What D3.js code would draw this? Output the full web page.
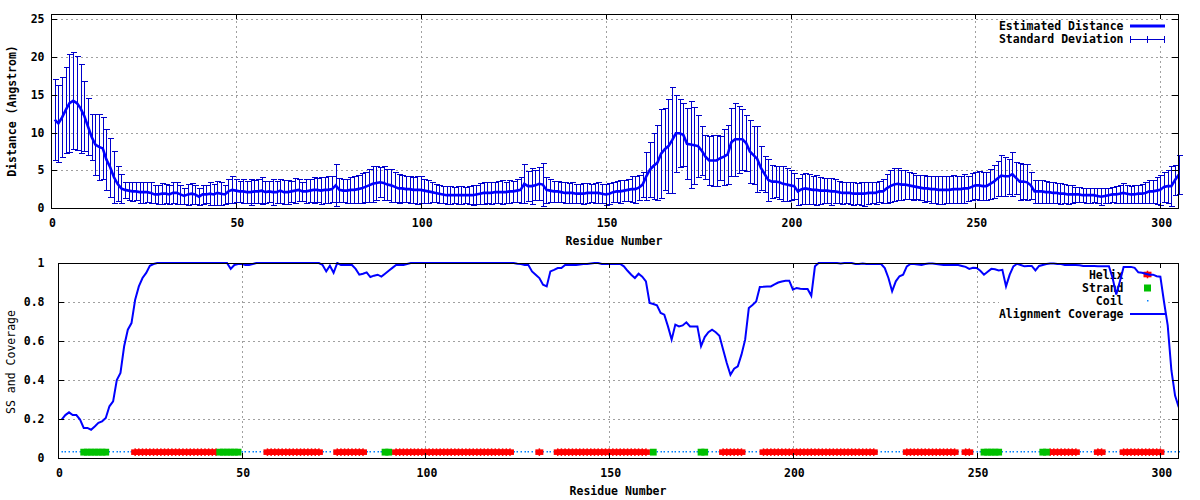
<!DOCTYPE html>
<html><head><meta charset="utf-8">
<script src="https://cdn.jsdelivr.net/npm/d3@7"></script>
<style>
body{margin:0;background:#fff}
text{font-family:"DejaVu Sans Mono","Liberation Mono",monospace;font-size:11.5px;font-weight:bold;fill:#000}
</style>
</head><body><script>
// ---------------- data ----------------
const meanDist = [11.7,11.2,12.0,13.0,13.9,14.2,13.9,13.2,12.2,10.8,
 9.4,8.4,8.1,7.9,6.4,5.4,4.1,3.2,2.6,2.4,
 2.3,2.2,2.2,2.1,2.1,2.1,2.0,1.8,1.8,1.9,
 1.9,1.8,2.0,2.0,1.8,1.6,1.8,1.9,1.8,1.5,
 1.8,1.8,1.9,1.8,2.0,1.9,1.8,2.2,2.4,2.3,
 2.2,2.2,2.1,2.1,2.2,2.2,2.3,2.1,2.2,2.1,
 2.1,2.3,2.1,2.1,2.2,2.3,2.4,2.2,2.2,2.3,
 2.4,2.4,2.3,2.4,2.4,2.5,3.0,2.4,2.3,2.3,
 2.4,2.4,2.5,2.6,2.8,3.0,3.2,3.3,3.4,3.3,
 3.1,3.0,2.8,2.6,2.6,2.5,2.5,2.4,2.4,2.4,
 2.3,2.2,2.1,2.0,1.9,1.8,1.7,1.7,1.7,1.7,
 1.7,1.7,1.7,1.7,1.8,1.9,2.0,2.0,2.0,2.1,
 2.1,2.1,2.1,2.2,2.2,2.3,2.4,3.2,2.9,2.9,
 3.0,3.2,3.1,2.4,2.3,2.2,2.2,2.1,2.0,2.0,
 2.0,1.9,1.9,1.9,2.0,2.0,2.0,2.0,1.9,1.8,
 1.9,2.1,2.2,2.2,2.3,2.4,2.5,2.5,2.7,3.1,
 4.2,5.1,5.6,6.0,7.2,7.8,8.2,9.0,9.9,9.9,
 9.7,8.5,8.4,8.3,8.2,7.6,6.8,6.3,6.3,6.3,
 6.6,6.8,7.1,8.7,9.1,9.1,9.1,8.6,7.5,7.0,
 6.5,5.3,4.5,3.7,3.5,3.5,3.4,3.2,3.1,3.0,
 2.9,2.2,2.5,2.6,2.5,2.4,2.4,2.3,2.3,2.3,
 2.2,2.2,2.1,2.0,2.0,2.0,1.9,1.9,1.9,1.9,
 2.0,2.0,2.0,2.2,2.2,2.6,2.9,3.1,3.2,3.1,
 3.1,3.0,2.9,2.8,2.7,2.6,2.6,2.5,2.5,2.4,
 2.4,2.4,2.4,2.5,2.5,2.5,2.6,2.6,2.8,3.0,
 3.0,2.9,2.9,3.2,3.5,3.9,4.3,4.2,4.2,4.5,
 4.0,3.5,3.5,3.4,3.0,2.2,2.2,2.2,2.1,2.1,
 2.0,2.0,1.9,1.9,1.8,1.8,1.8,1.8,1.7,1.7,
 1.7,1.7,1.6,1.5,1.6,1.7,1.8,1.8,1.9,2.0,
 1.9,1.8,1.8,1.9,1.9,2.0,2.2,2.2,2.3,2.4,
 2.8,2.9,2.9,3.7,4.4];

const sdDist = [5.4,5.1,5.3,5.7,6.5,6.4,6.2,5.9,4.6,3.8,
 3.0,4.0,4.4,4.1,4.0,3.9,3.4,2.3,1.9,1.1,
 1.2,1.3,1.2,1.4,1.4,1.3,1.4,1.2,1.3,1.4,
 1.3,1.3,1.4,1.5,1.3,1.1,1.4,1.4,1.3,1.1,
 1.3,1.2,1.5,1.4,1.6,1.5,1.3,1.6,1.8,1.5,
 1.4,1.6,1.5,1.7,1.5,1.6,1.8,1.5,1.4,1.7,
 1.5,1.6,1.6,1.6,1.4,1.7,1.5,1.3,1.6,1.5,
 1.7,1.6,1.8,1.7,1.8,1.7,2.8,1.6,1.5,1.6,
 1.7,1.8,1.9,2.0,2.0,2.2,2.4,2.3,2.0,2.2,
 2.1,2.2,2.0,1.9,1.8,1.7,1.8,1.7,1.9,1.8,
 1.6,1.5,1.3,1.2,1.2,1.1,1.2,1.2,1.1,1.2,
 1.2,1.1,1.2,1.3,1.3,1.4,1.5,1.4,1.5,1.4,
 1.5,1.6,1.4,1.5,1.4,1.5,1.7,2.6,2.0,2.4,
 2.0,2.2,2.8,1.7,1.5,1.4,1.4,1.3,1.4,1.3,
 1.4,1.3,1.3,1.4,1.3,1.2,1.3,1.4,1.3,1.4,
 1.4,1.3,1.4,1.5,1.4,1.5,1.7,1.8,1.7,1.7,
 3.2,3.7,4.4,5.0,5.9,5.4,6.2,7.0,5.1,4.5,
 4.2,4.7,5.8,5.1,4.1,3.2,2.9,3.2,3.4,3.4,
 2.9,3.7,3.9,4.5,4.8,4.4,4.0,3.7,4.2,3.8,
 4.4,2.9,2.4,2.8,2.2,2.1,2.2,2.3,2.2,2.0,
 1.7,1.8,2.0,2.1,2.0,1.9,2.0,1.8,1.7,1.7,
 1.8,1.6,1.5,1.5,1.4,1.5,1.5,1.4,1.5,1.6,
 1.5,1.4,1.5,1.4,1.6,1.9,2.1,2.2,2.1,2.0,
 1.9,1.8,1.8,1.6,1.7,1.8,1.7,1.8,1.8,1.9,
 1.9,1.8,1.8,1.9,1.8,1.8,1.9,1.7,1.8,1.8,
 1.9,1.9,1.9,2.0,2.2,2.3,2.7,2.6,2.3,2.9,
 2.1,2.4,2.3,2.4,1.8,1.5,1.5,1.5,1.5,1.4,
 1.4,1.3,1.4,1.3,1.3,1.2,1.0,1.0,0.9,1.0,
 1.0,0.9,1.0,1.1,1.0,1.0,1.0,1.1,1.2,1.3,
 1.2,1.1,1.2,1.2,1.3,1.4,1.5,1.5,1.8,2.0,
 2.0,2.2,2.6,2.0,2.6];

const coverage = [0.197,0.22,0.234,0.22,0.22,0.197,0.154,0.154,0.145,0.162,
 0.18,0.188,0.205,0.265,0.29,0.40,0.436,0.573,0.658,0.692,
 0.812,0.88,0.923,0.949,0.986,0.995,1,1,1,1,
 1,1,1,1,1,1,1,1,1,1,
 1,1,1,1,1,1,0.97,0.99,0.995,0.995,
 0.99,0.99,0.995,1,1,1,1,1,1,1,
 1,1,1,1,1,1,1,1,1,1,
 1,0.99,0.957,0.986,0.95,1,0.99,0.99,0.99,0.99,
 0.97,0.94,0.945,0.952,0.928,0.935,0.94,0.93,0.945,0.96,
 0.975,0.99,0.99,0.99,0.995,1,1,1,1,1,
 1,1,1,1,1,1,1,1,1,1,
 1,1,1,1,1,1,1,1,1,1,
 1,1,1,1,0.996,0.995,0.99,0.99,0.957,0.94,
 0.923,0.889,0.88,0.957,0.965,0.974,0.974,0.99,0.99,0.99,
 0.99,0.992,0.995,0.995,0.998,1,1,0.995,0.995,0.995,
 0.995,0.995,0.995,0.983,0.96,0.94,0.923,0.945,0.93,0.906,
 0.795,0.79,0.783,0.744,0.735,0.675,0.607,0.684,0.675,0.68,
 0.696,0.675,0.675,0.675,0.573,0.62,0.645,0.658,0.645,0.627,
 0.556,0.487,0.427,0.458,0.47,0.53,0.607,0.769,0.785,0.803,
 0.877,0.878,0.88,0.88,0.89,0.9,0.905,0.909,0.909,0.863,
 0.872,0.868,0.867,0.867,0.832,0.983,1,1,1,1,
 1,1,0.998,1,1,1,0.995,0.995,0.998,0.995,
 0.995,0.995,0.995,0.995,0.974,0.923,0.855,0.906,0.932,0.94,
 0.983,0.995,0.995,0.992,0.99,0.995,0.998,0.998,0.995,0.992,
 0.99,0.99,0.99,0.99,0.99,0.985,0.98,0.97,0.975,0.974,
 0.96,0.94,0.955,0.97,0.968,0.962,0.965,0.88,0.94,0.983,
 0.996,0.99,0.983,0.985,0.985,0.962,0.985,0.99,0.995,0.998,
 0.998,0.995,0.995,0.99,0.99,0.99,0.99,0.988,0.985,0.985,
 0.985,0.985,0.983,0.983,0.983,0.983,0.923,0.838,0.906,0.98,
 0.98,0.98,0.975,0.952,0.95,0.945,0.94,0.94,0.932,0.93,
 0.8,0.68,0.45,0.32,0.26];

// secondary structure segments (residue ranges, inclusive)
const helixSegments  = [[21,43],[57,71],[76,83],[92,123],[131,131],[136,160],[181,186],[192,222],[231,244],[247,248],[270,277],[283,284],[290,300]];
const strandSegments = [[7,13],[44,49],[89,90],[162,162],[175,176],[252,256],[268,269]];
const ssLevel = 0.03;

const xTickValues = [0,50,100,150,200,250,300];
const yTicksTop = [0,5,10,15,20,25];
const yTicksBottom = [0,0.2,0.4,0.6,0.8,1];
const yTickLabelsBottom = ["0","0.2","0.4","0.6","0.8","1"];

const legendTop = ["Estimated Distance","Standard Deviation"];
const legendBottom = ["Helix","Strand","Coil","Alignment Coverage"];

// ---------------- drawing ----------------
const residues = d3.range(1, meanDist.length + 1);
const svg = d3.select("body").append("svg").attr("width",1200).attr("height",500);
svg.append("rect").attr("width",1200).attr("height",500).attr("fill","#fff");

const GRID = "#a0a0a0";
function crisp(v){ return Math.round(v) + 0.5; }

function drawGrid(g, x, y, xt, yt){
  const [x0,x1] = x.range(), [y0,y1] = y.range();
  g.selectAll(null).data(yt.filter(v => v > y.domain()[0])).join("line")
    .attr("x1",x0).attr("x2",x1).attr("y1",d=>crisp(y(d))).attr("y2",d=>crisp(y(d)))
    .attr("stroke",GRID).attr("stroke-width",1).attr("stroke-dasharray","2,3").attr("shape-rendering","crispEdges");
  g.selectAll(null).data(xt.filter(v => v > x.domain()[0])).join("line")
    .attr("y1",y0).attr("y2",y1).attr("x1",d=>crisp(x(d))).attr("x2",d=>crisp(x(d)))
    .attr("stroke",GRID).attr("stroke-width",1).attr("stroke-dasharray","2,3").attr("shape-rendering","crispEdges");
}

function drawFrame(g, x, y, xt, yt, ylabels, labelX){
  const [x0,x1] = x.range(), [y0,y1] = y.range();
  g.append("rect").attr("x",crisp(x0)).attr("y",crisp(y1)).attr("width",Math.round(x1-x0)).attr("height",Math.round(y0-y1))
    .attr("fill","none").attr("stroke","#000").attr("stroke-width",1).attr("shape-rendering","crispEdges");
  const tk = g.append("g").attr("stroke","#000").attr("stroke-width",1).attr("shape-rendering","crispEdges");
  yt.forEach(v => {
    const yy = crisp(y(v));
    tk.append("line").attr("x1",x0).attr("x2",x0+6).attr("y1",yy).attr("y2",yy);
    tk.append("line").attr("x1",x1).attr("x2",x1-6).attr("y1",yy).attr("y2",yy);
  });
  xt.forEach(v => {
    const xx = crisp(x(v));
    tk.append("line").attr("y1",y0).attr("y2",y0-5).attr("x1",xx).attr("x2",xx);
    tk.append("line").attr("y1",y1).attr("y2",y1+5).attr("x1",xx).attr("x2",xx);
  });
  g.selectAll(null).data(yt).join("text")
    .attr("x",labelX).attr("y",d=>y(d)).attr("dy","0.36em").attr("text-anchor","end")
    .text((d,i)=>ylabels[i]);
  g.selectAll(null).data(xt).join("text")
    .attr("x",d=>x(d)+1.5).attr("y",y0+14.7).attr("dy","0.36em").attr("text-anchor","middle")
    .text(d=>d);
}

// ===== Top panel =====
const xTop = d3.scaleLinear().domain([0,304.8]).range([51,1178]);
const yTop = d3.scaleLinear().domain([0,25.7]).range([208,14]);
const gTop = svg.append("g");
drawGrid(gTop, xTop, yTop, xTickValues, yTicksTop);
// opaque key box
gTop.append("rect").attr("x",995).attr("y",20).attr("width",175).attr("height",26).attr("fill","#fff");

const EB = "#0000cc";
const eb = gTop.append("g").attr("stroke",EB).attr("stroke-width",1).attr("shape-rendering","crispEdges");
residues.forEach((r,i) => {
  const xx = crisp(xTop(r));
  const lo = Math.max(0, meanDist[i]-sdDist[i]), hi = meanDist[i]+sdDist[i];
  const ylo = crisp(yTop(lo)), yhi = crisp(yTop(hi));
  eb.append("line").attr("x1",xx).attr("x2",xx).attr("y1",ylo).attr("y2",yhi);
  eb.append("line").attr("x1",xx-3).attr("x2",xx+3).attr("y1",ylo).attr("y2",ylo);
  eb.append("line").attr("x1",xx-3).attr("x2",xx+3).attr("y1",yhi).attr("y2",yhi);
});
gTop.append("path")
  .datum(residues)
  .attr("d", d3.line().x(r=>xTop(r)).y((r,i)=>yTop(meanDist[i])))
  .attr("fill","none").attr("stroke","#0000ff").attr("stroke-width",2.6).attr("stroke-linejoin","miter");

// key
const keyTopY = [26,39];
gTop.selectAll(null).data(legendTop).join("text")
  .attr("x",1123.5).attr("y",(d,i)=>keyTopY[i]).attr("dy","0.36em").attr("text-anchor","end").text(d=>d);
gTop.append("line").attr("x1",1130).attr("x2",1165).attr("y1",26).attr("y2",26).attr("stroke","#0000ff").attr("stroke-width",3);
const kk = gTop.append("g").attr("stroke",EB).attr("stroke-width",1).attr("shape-rendering","crispEdges");
kk.append("line").attr("x1",1130).attr("x2",1165).attr("y1",39.5).attr("y2",39.5);
[1130.5,1147.5,1164.5].forEach(xx => kk.append("line").attr("x1",xx).attr("x2",xx).attr("y1",36).attr("y2",43));

drawFrame(gTop, xTop, yTop, xTickValues, yTicksTop, yTicksTop.map(String), 44.5);
gTop.append("text").attr("x",614).attr("y",241).attr("dy","0.36em").attr("text-anchor","middle").text("Residue Number");
gTop.append("text").attr("transform","translate(12,111) rotate(-90)").attr("dy","0.36em").attr("text-anchor","middle").text("Distance (Angstrom)");

// ===== Bottom panel =====
const xBot = d3.scaleLinear().domain([0,304.8]).range([58,1178]);
const yBot = d3.scaleLinear().domain([0,1]).range([458,263]);
const gBot = svg.append("g");
drawGrid(gBot, xBot, yBot, xTickValues, yTicksBottom);
gBot.append("rect").attr("x",999).attr("y",264).attr("width",169).attr("height",54).attr("fill","#fff");

function inSeg(r, segs){ return segs.some(s => r >= s[0] && r <= s[1]); }
const helixRes  = residues.filter(r => inSeg(r, helixSegments));
const strandRes = residues.filter(r => inSeg(r, strandSegments) && !inSeg(r, helixSegments));
const coilRes   = residues.filter(r => !inSeg(r, helixSegments) && !inSeg(r, strandSegments));
const ssY = yBot(ssLevel);

const COIL = "#0080ff", HELIX = "#ff0000", STRAND = "#00c000";
gBot.selectAll(null).data(coilRes).join("rect")
  .attr("x",r=>Math.round(xBot(r))-0.5).attr("y",Math.round(ssY)-1).attr("width",1.5).attr("height",1.5).attr("fill",COIL);
function helixMark(sel, cx, cy){
  sel.append("rect").attr("x",cx-4).attr("y",cy-2.8).attr("width",8).attr("height",5.6).attr("fill",HELIX);
  sel.append("rect").attr("x",cx-0.75).attr("y",cy-3.8).attr("width",1.5).attr("height",7.6).attr("fill",HELIX);
}
const gH = gBot.append("g");
helixRes.forEach(r => helixMark(gH, xBot(r), ssY));
gBot.selectAll(null).data(strandRes).join("rect")
  .attr("x",r=>xBot(r)-3.4).attr("y",ssY-3.4).attr("width",6.8).attr("height",6.8).attr("fill",STRAND);

// key text (drawn under the coverage line)
const keyBotY = [275,288,301,314];
gBot.selectAll(null).data(legendBottom).join("text")
  .attr("x",1123.5).attr("y",(d,i)=>keyBotY[i]).attr("dy","0.36em").attr("text-anchor","end").text(d=>d);
helixMark(gBot, 1147.5, 274.5);
gBot.append("rect").attr("x",1144).attr("y",284.5).attr("width",7).attr("height",7).attr("fill",STRAND);
gBot.append("rect").attr("x",1147).attr("y",300).attr("width",1.5).attr("height",1.5).attr("fill",COIL);
gBot.append("line").attr("x1",1130).attr("x2",1165).attr("y1",314).attr("y2",314).attr("stroke","#0000ff").attr("stroke-width",2);

gBot.append("clipPath").attr("id","clipBot").append("rect").attr("x",58).attr("y",262).attr("width",1120.5).attr("height",197);
gBot.append("path")
  .datum(residues)
  .attr("clip-path","url(#clipBot)")
  .attr("d", d3.line().x(r=>xBot(r)).y((r,i)=>yBot(coverage[i])))
  .attr("fill","none").attr("stroke","#0000ff").attr("stroke-width",2);

drawFrame(gBot, xBot, yBot, xTickValues, yTicksBottom, yTickLabelsBottom, 44.5);
gBot.append("text").attr("x",618).attr("y",491).attr("dy","0.36em").attr("text-anchor","middle").text("Residue Number");
gBot.append("text").attr("transform","translate(11,362) rotate(-90)").attr("dy","0.36em").attr("text-anchor","middle")
  .style("font-weight","normal").text("SS and Coverage");
</script></body></html>
